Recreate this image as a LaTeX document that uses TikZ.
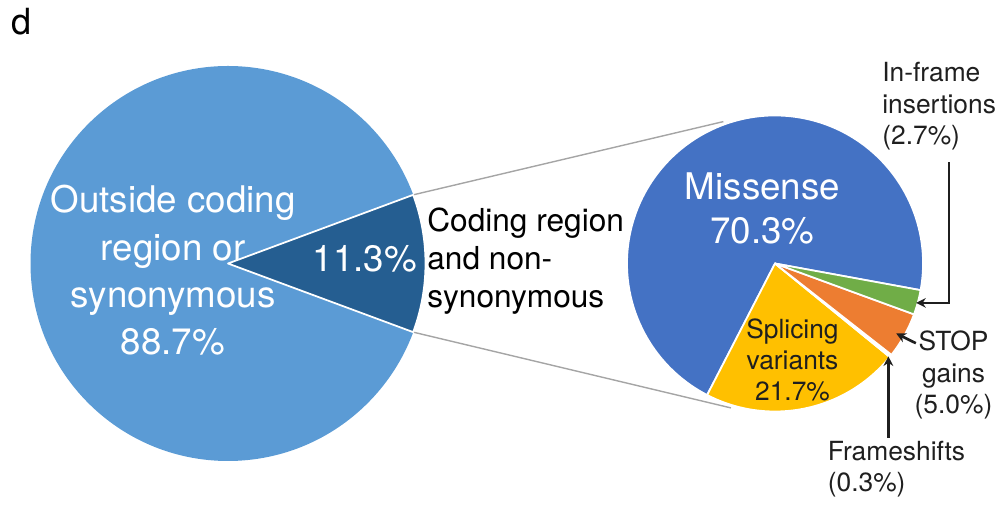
\documentclass[tikz,border=0pt]{standalone}
\usepackage{fontspec}
\setmainfont{TeX Gyre Heros}
\usepackage{xcolor}
\usepackage{tikz}
\usetikzlibrary{arrows.meta,positioning,calc}

\definecolor{outsideblue}{HTML}{5B9BD5}
\definecolor{codingblue}{HTML}{255E91}
\definecolor{missblue}{HTML}{4472C4}
\definecolor{splicegold}{HTML}{FFC000}
\definecolor{stoporange}{HTML}{ED7D31}
\definecolor{insgreen}{HTML}{70AD47}
\definecolor{linkgray}{HTML}{A5A5A5}

\begin{document}
\begin{tikzpicture}[
  slice/.style={draw=white, line width=1pt, line join=round},
  big/.style={text=white, font=\fontsize{20.9}{27}\selectfont,
              align=center, inner sep=0pt},
  mid/.style={font=\fontsize{18}{21.6}\selectfont, align=left, inner sep=0pt},
  small/.style={text=black!88, font=\fontsize{15}{17.8}\selectfont, inner sep=0pt},
  arr/.style={->, >={Stealth[length=5.5pt,width=5.5pt]}, line width=1.5pt, black!88},
  link/.style={draw=linkgray, line width=0.8pt}
]
\useasboundingbox (0,0) rectangle (20.04,10.14);

% left pie
\coordinate (c1) at (4.56,4.87);
\path (c1) ++(20.34:3.95) coordinate (cut top);
\path (c1) ++(-20.34:3.95) coordinate (cut bot);

% right pie
\coordinate (c2) at (15.50,4.87);
\path (c2) ++(110:3.02) coordinate (link top);
\path (c2) ++(-107:3.02) coordinate (link bot);

\draw[link] (cut top) -- (link top);
\draw[link] (cut bot) -- (link bot);

\fill[outsideblue] (c1) circle (3.95);
\filldraw[slice, fill=codingblue] (c1) -- (cut bot)
  arc[start angle=-20.34, end angle=20.34, radius=3.95] -- cycle;

\filldraw[slice, fill=missblue] (c2) -- ++(-10.38:2.96)
  arc[start angle=-10.38, end angle=242.7, radius=2.96] -- cycle;
\filldraw[slice, fill=splicegold] (c2) -- ++(-117.3:2.96)
  arc[start angle=-117.3, end angle=-39.18, radius=2.96] -- cycle;
\filldraw[slice, fill=white] (c2) -- ++(-39.18:2.96)
  arc[start angle=-39.18, end angle=-38.1, radius=2.96] -- cycle;
\filldraw[slice, fill=stoporange] (c2) -- ++(-38.1:2.96)
  arc[start angle=-38.1, end angle=-20.1, radius=2.96] -- cycle;
\filldraw[slice, fill=insgreen] (c2) -- ++(-20.1:2.96)
  arc[start angle=-20.1, end angle=-10.38, radius=2.96] -- cycle;

\path (c2) ++(-15.6:2.93) coordinate (ins tip);
\path (c2) ++(-30:2.80) coordinate (stop tip);
\path (c2) ++(-39.3:2.93) coordinate (fs tip);

% labels (base = last line)
\node[anchor=base west, inner sep=0pt, font=\fontsize{20.5}{24}\selectfont] (panel) at (0.23,9.44) {d};
\node[big, anchor=base] (outside) at (3.46,3.04) {Outside coding\\region or\\synonymous\\88.7\%};
\node[big, anchor=base] (coding pct) at (7.30,4.70) {11.3\%};
\node[mid, anchor=base west] (coding) at (8.54,3.994) {Coding region\\and non-\\synonymous};
\node[big, anchor=base, font=\fontsize{20.9}{25.4}\selectfont] (missense) at (15.25,5.26) {Missense\\70.3\%};
\node[small, align=center, anchor=base] (splicing) at (15.85,2.12) {Splicing\\variants\\21.7\%};
\node[small, align=left, anchor=base west] (ins) at (17.64,7.254) {In-frame\\insertions\\(2.7\%)};
\node[small, align=center, anchor=base] (stop) at (19.07,1.874) {STOP\\gains\\(5.0\%)};
\node[small, align=left, anchor=base west] (fs) at (16.55,0.306) {Frameshifts\\(0.3\%)};

% arrows
\draw[arr] ([xshift=0.2cm,yshift=-0.24cm]ins.south) |- (ins tip);
\draw[arr] ([xshift=0.03cm,yshift=-0.25cm]stop.north west) -- (stop tip);
\draw[arr] ([yshift=0.06cm]fs.north -| fs tip) -- (fs tip);
\end{tikzpicture}
\end{document}
